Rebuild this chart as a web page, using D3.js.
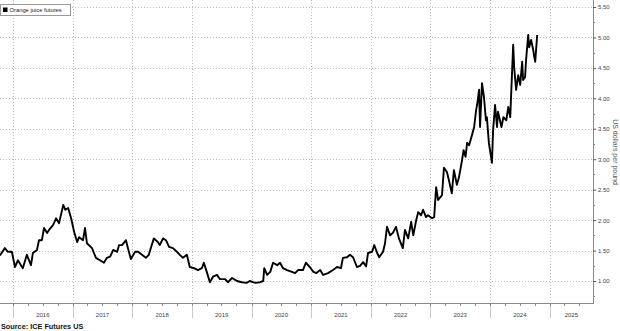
<!DOCTYPE html>
<html>
<head>
<meta charset="utf-8">
<script src="https://cdn.jsdelivr.net/npm/d3@7"></script>
<style>
  body { margin: 0; background: #fff; }
  svg { display: block; font-family: "Liberation Sans", Arial, sans-serif; }
</style>
</head>
<body>
<div id="viz"></div>
<script>
// orange juice futures
var dates = [
  "2015-10-13","2015-11-12","2015-12-01","2015-12-25","2016-01-13","2016-01-31","2016-03-01","2016-03-26",
  "2016-04-20","2016-05-02","2016-05-27","2016-06-08","2016-06-26","2016-07-09","2016-07-28","2016-08-09",
  "2016-09-03","2016-09-21","2016-10-09","2016-11-04","2016-11-16","2016-12-04","2016-12-22","2017-01-10",
  "2017-01-28","2017-02-09","2017-03-05","2017-03-17","2017-03-29","2017-04-29","2017-05-23","2017-06-17",
  "2017-07-11","2017-07-29","2017-08-18","2017-09-06","2017-09-30","2017-10-12","2017-10-30","2017-11-23",
  "2017-12-05","2017-12-23","2018-01-18","2018-02-05","2018-03-01","2018-03-25","2018-04-12","2018-04-30",
  "2018-05-13","2018-06-06","2018-06-18","2018-07-08","2018-07-26","2018-08-14","2018-09-07","2018-10-01",
  "2018-10-19","2018-11-07","2018-12-01","2018-12-19","2019-01-14","2019-02-07","2019-03-03","2019-03-15",
  "2019-04-02","2019-04-21","2019-05-10","2019-06-04","2019-06-22","2019-07-23","2019-08-10","2019-09-04",
  "2019-10-04","2019-11-03","2019-12-03","2019-12-21","2020-01-24","2020-02-23","2020-03-13","2020-03-19",
  "2020-04-06","2020-04-25","2020-05-12","2020-06-06","2020-06-24","2020-07-12","2020-08-06","2020-09-05",
  "2020-09-24","2020-10-12","2020-11-11","2020-11-29","2020-12-23","2021-01-14","2021-02-01","2021-02-25",
  "2021-03-15","2021-04-14","2021-05-14","2021-06-08","2021-07-02","2021-07-14","2021-08-08","2021-08-26",
  "2021-09-14","2021-10-08","2021-10-27","2021-11-15","2021-12-03","2021-12-15","2022-01-09","2022-01-22",
  "2022-02-09","2022-02-21","2022-03-17","2022-03-29","2022-04-10","2022-04-29","2022-05-16","2022-06-04",
  "2022-06-22","2022-07-16","2022-07-29","2022-08-18","2022-09-05","2022-09-18","2022-10-06","2022-10-18",
  "2022-11-05","2022-11-17","2022-12-05","2022-12-17","2023-01-11","2023-01-24","2023-02-05","2023-02-17",
  "2023-03-13","2023-03-25","2023-04-12","2023-04-24","2023-05-12","2023-05-25","2023-06-12","2023-06-24",
  "2023-07-14","2023-07-23","2023-08-04","2023-08-14","2023-08-26","2023-09-13","2023-09-26","2023-10-08",
  "2023-10-14","2023-10-26","2023-11-01","2023-11-13","2023-11-25","2023-12-07","2023-12-13","2023-12-25",
  "2024-01-13","2024-01-20","2024-02-01","2024-02-13","2024-02-19","2024-03-11","2024-03-23","2024-04-10",
  "2024-04-22","2024-05-04","2024-05-22","2024-05-28","2024-06-09","2024-06-22","2024-07-04","2024-07-16",
  "2024-07-22","2024-08-03","2024-08-09","2024-08-22","2024-08-28","2024-09-09","2024-09-22","2024-09-28",
  "2024-10-04","2024-10-16"
];
var prices = [
  1.42,1.54,1.48,1.48,1.23,1.34,1.21,1.43,
  1.26,1.46,1.51,1.67,1.67,1.87,1.79,1.84,
  1.92,2.03,1.95,2.25,2.17,2.20,2.03,1.80,
  1.64,1.72,1.67,1.87,1.62,1.54,1.38,1.34,
  1.30,1.38,1.40,1.51,1.48,1.59,1.59,1.67,
  1.54,1.36,1.48,1.48,1.43,1.38,1.43,1.59,
  1.70,1.64,1.59,1.70,1.67,1.56,1.54,1.48,
  1.43,1.38,1.43,1.23,1.21,1.18,1.21,1.30,
  1.15,0.98,1.07,1.10,1.03,1.03,0.98,1.05,
  1.00,0.98,0.97,1.00,0.97,0.98,1.00,1.21,
  1.10,1.15,1.30,1.26,1.30,1.21,1.18,1.15,
  1.13,1.18,1.18,1.30,1.23,1.15,1.13,1.18,
  1.10,1.13,1.18,1.23,1.21,1.38,1.39,1.43,
  1.39,1.23,1.25,1.31,1.24,1.46,1.48,1.59,
  1.46,1.39,1.48,1.62,1.89,1.75,1.79,1.89,
  1.70,1.54,1.84,1.70,1.97,1.75,2.00,2.13,
  2.08,2.17,2.05,2.08,2.03,2.05,2.54,2.33,
  2.41,2.86,2.79,2.66,2.44,2.82,2.58,2.69,
  2.99,3.15,3.04,3.27,3.23,3.40,3.53,3.81,
  3.89,4.14,3.53,4.25,4.02,3.64,3.69,3.27,
  2.94,3.48,3.89,3.53,3.78,3.53,3.69,3.64,
  3.86,3.69,4.88,4.51,4.14,4.38,4.22,4.60,
  4.30,4.35,4.63,5.04,4.84,4.96,4.79,4.68,
  4.60,5.04
];
var yearLabels = [2016, 2017, 2018, 2019, 2020, 2021, 2022, 2023, 2024, 2025];
var yTicks = [1.00, 1.50, 2.00, 2.50, 3.00, 3.50, 4.00, 4.50, 5.00, 5.50];
var seriesName = "Orange juice futures";
var yTitle = "US dollars per pound";
var sourceText = "Source: ICE Futures US";

var width = 620, height = 331;
var plotRight = 593, plotBottom = 303;

var parse = d3.timeParse("%Y-%m-%d");
var data = dates.map(function(d, i) { return { date: parse(d), value: prices[i] }; });

var x = d3.scaleTime()
  .domain([new Date(2016, 0, 1), new Date(2024, 0, 1)])
  .range([13, 490]);
var y = d3.scaleLinear()
  .domain([1, 5.5])
  .range([281, 7]);

var xStart = x.invert(0), xEnd = x.invert(plotRight);

var svg = d3.select("#viz").append("svg")
  .attr("width", width)
  .attr("height", height);

// gridlines
var yearStarts = yearLabels.map(function(yr) { return new Date(yr, 0, 1); });
svg.append("g").selectAll("line")
  .data(yearStarts)
  .enter().append("line")
  .attr("x1", function(d) { return Math.round(x(d)) + 0.5; })
  .attr("x2", function(d) { return Math.round(x(d)) + 0.5; })
  .attr("y1", 0)
  .attr("y2", plotBottom)
  .attr("stroke", "#bdbdbd")
  .attr("stroke-dasharray", "1,2");

svg.append("g").selectAll("line")
  .data(yTicks)
  .enter().append("line")
  .attr("x1", 0)
  .attr("x2", plotRight)
  .attr("y1", function(d) { return Math.round(y(d)) + 0.5; })
  .attr("y2", function(d) { return Math.round(y(d)) + 0.5; })
  .attr("stroke", "#bdbdbd")
  .attr("stroke-dasharray", "1,2");

// the price line
var line = d3.line()
  .x(function(d) { return x(d.date); })
  .y(function(d) { return y(d.value); });

svg.append("path")
  .datum(data)
  .attr("fill", "none")
  .attr("stroke", "#000")
  .attr("stroke-width", 1.9)
  .attr("stroke-linejoin", "round")
  .attr("d", line);

// bottom axis
svg.append("line")
  .attr("x1", 0).attr("x2", plotRight)
  .attr("y1", plotBottom + 0.5).attr("y2", plotBottom + 0.5)
  .attr("stroke", "#8a8a8a");

// year separators below the axis
svg.append("g").selectAll("line")
  .data(yearStarts)
  .enter().append("line")
  .attr("x1", function(d) { return Math.round(x(d)) + 0.5; })
  .attr("x2", function(d) { return Math.round(x(d)) + 0.5; })
  .attr("y1", plotBottom)
  .attr("y2", plotBottom + 15)
  .attr("stroke", "#c8c8c8");

// quarterly minor ticks
var quarters = d3.timeMonth.every(3).range(xStart, xEnd);
svg.append("g").selectAll("line")
  .data(quarters)
  .enter().append("line")
  .attr("x1", function(d) { return Math.round(x(d)) + 0.5; })
  .attr("x2", function(d) { return Math.round(x(d)) + 0.5; })
  .attr("y1", plotBottom)
  .attr("y2", plotBottom + 3)
  .attr("stroke", "#8a8a8a");

// year labels centred in each visible year
svg.append("g").selectAll("text")
  .data(yearLabels)
  .enter().append("text")
  .attr("x", function(yr) {
    var a = Math.max(x(new Date(yr, 0, 1)), 0);
    var b = Math.min(x(new Date(yr + 1, 0, 1)), plotRight);
    return (a + b) / 2;
  })
  .attr("y", 317)
  .attr("text-anchor", "middle")
  .attr("font-size", "6px")
  .attr("fill", "#444")
  .text(function(d) { return d; });

// right axis
var yAxis = d3.axisRight(y)
  .tickValues(yTicks)
  .tickSize(3)
  .tickPadding(2)
  .tickFormat(d3.format(".2f"));

var yMinor = d3.range(0.75, 5.5, 0.5);

svg.append("line")
  .attr("x1", plotRight + 0.5).attr("x2", plotRight + 0.5)
  .attr("y1", 0).attr("y2", plotBottom + 1)
  .attr("stroke", "#8a8a8a");

svg.append("g").selectAll("line")
  .data(yMinor)
  .enter().append("line")
  .attr("x1", plotRight)
  .attr("x2", plotRight + 2)
  .attr("y1", function(d) { return Math.round(y(d)) + 0.5; })
  .attr("y2", function(d) { return Math.round(y(d)) + 0.5; })
  .attr("stroke", "#8a8a8a");

var gy = svg.append("g")
  .attr("transform", "translate(" + plotRight + ",0)")
  .call(yAxis);
gy.select(".domain").remove();
gy.selectAll(".tick line").attr("stroke", "#555");
gy.selectAll(".tick text")
  .attr("font-size", "6px")
  .attr("font-family", "Liberation Sans, Arial, sans-serif")
  .attr("fill", "#444");

svg.append("text")
  .attr("transform", "translate(613,152) rotate(90)")
  .attr("text-anchor", "middle")
  .attr("font-size", "7px")
  .attr("fill", "#555")
  .text(yTitle);

// legend
var lg = svg.append("g");
lg.append("rect")
  .attr("x", 0.5).attr("y", 4.5)
  .attr("width", 70).attr("height", 11)
  .attr("fill", "#fff")
  .attr("stroke", "#999");
lg.append("rect")
  .attr("x", 3).attr("y", 7.5)
  .attr("width", 4.5).attr("height", 4.5)
  .attr("fill", "#000");
lg.append("text")
  .attr("x", 9.5).attr("y", 12)
  .attr("font-size", "5.8px")
  .attr("fill", "#222")
  .text(seriesName);

// source
svg.append("text")
  .attr("x", 1).attr("y", 328.5)
  .attr("font-size", "7.3px")
  .attr("font-weight", "bold")
  .attr("fill", "#111")
  .text(sourceText);
</script>
</body>
</html>
